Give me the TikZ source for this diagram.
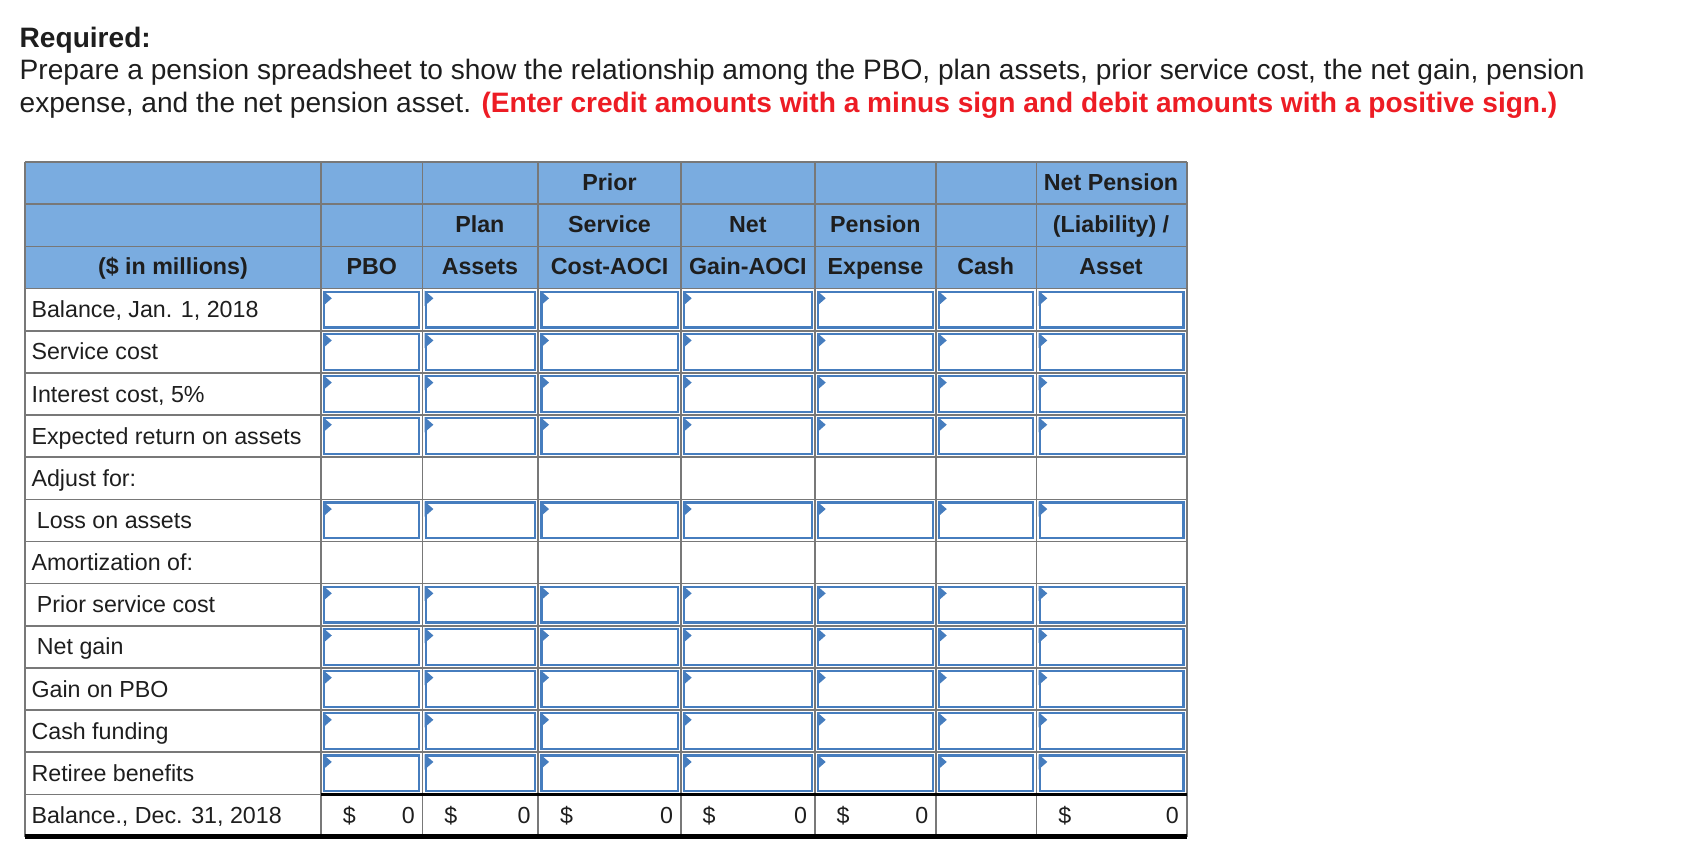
\documentclass[tikz,border=0pt]{standalone}
\usepackage{fontspec}
\setmainfont{Liberation Sans}
\definecolor{hdr}{RGB}{122,172,224}
\definecolor{grid}{RGB}{120,120,120}
\definecolor{inb}{RGB}{70,125,190}
\definecolor{req}{RGB}{237,28,36}
\definecolor{txt}{RGB}{30,30,30}
\begin{document}
\begin{tikzpicture}[x=1pt,y=-1pt,
  hd/.style={font=\fontsize{21.5}{24}\selectfont\bfseries,text=txt,anchor=base,inner sep=0},
  rl/.style={font=\fontsize{21.5}{24}\selectfont,text=txt,anchor=base west,inner sep=0},
  intro/.style={font=\fontsize{26}{30}\selectfont,text=txt,anchor=base west,inner sep=0}]
\useasboundingbox (0,0) rectangle (1560,803);
\node[intro] (r1) at (18,44) {\bfseries Required:};
\node[intro] (r2) at (18,74) {Prepare a pension spreadsheet to show the relationship among the PBO, plan assets, prior service cost, the net gain, pension};
\node[intro] (r3) at (18,104) {expense, and the net pension asset. \textcolor{req}{\bfseries(Enter credit amounts with a minus sign and debit amounts with a positive sign.)}};
% header
\fill[hdr] (23,150) rectangle (1098,267);
\def\xs{{23,297,391,498,630,754,866,959,1098}}
% input cells
\foreach \r in {0,1,2,3,5,7,8,9,10,11}{
  \foreach \c in {1,...,7}{
    \pgfmathsetmacro{\xa}{\xs[\c]}
    \pgfmathsetmacro{\xb}{\xs[\c+1]}
    \pgfmathsetmacro{\ya}{267+39*\r}
    \draw[inb,line width=2pt] (\xa+3,\ya+3) rectangle (\xb-3,\ya+36);
    \fill[inb] (\xa+2,\ya+2) -- (\xa+10,\ya+9) -- (\xa+2,\ya+16) -- cycle;
  }
}
% grid
\foreach \c in {0,...,8}{\pgfmathsetmacro{\xa}{\xs[\c]}\draw[grid,line width=1.5pt] (\xa,150) -- (\xa,774);}
\foreach \r in {0,...,15}{\draw[grid,line width=1.5pt] (23,150+39*\r) -- (1098,150+39*\r);}
\draw[line width=2.5pt] (297,735) -- (1098,735);
\draw[line width=4pt] (23,774) -- (1098,774);
% header text
\node[hd] (h1) at (564,176) {Prior};
\node[hd] (h2) at (1028,176) {Net Pension};
\node[hd] at (444,215) {Plan};
\node[hd] at (564,215) {Service};
\node[hd] at (692,215) {Net};
\node[hd] at (810,215) {Pension};
\node[hd] at (1028,215) {(Liability) /};
\node[hd] at (160,254) {(\$ in millions)};
\node[hd] at (344,254) {PBO};
\node[hd] at (444,254) {Assets};
\node[hd] at (564,254) {Cost-AOCI};
\node[hd] at (692,254) {Gain-AOCI};
\node[hd] at (810,254) {Expense};
\node[hd] at (912,254) {Cash};
\node[hd] at (1028,254) {Asset};
% row labels
\foreach \t [count=\i from 0] in {Balance{,} Jan. 1{,} 2018,Service cost,Interest cost{,} 5\%,Expected return on assets,Adjust for:,\hspace{5pt}Loss on assets,Amortization of:,\hspace{5pt}Prior service cost,\hspace{5pt}Net gain,Gain on PBO,Cash funding,Retiree benefits,Balance.{,} Dec. 31{,} 2018}
  \node[rl] (row\i) at (29,294+39*\i) {\t};
% totals
\foreach \c in {1,2,3,4,5,7}{
  \pgfmathsetmacro{\xa}{\xs[\c]}
  \pgfmathsetmacro{\xb}{\xs[\c+1]}
  \node[rl] at (\xa+20,762) {\$};
  \node[rl,anchor=base east] at (\xb-7,762) {0};
}
\end{tikzpicture}
\end{document}
